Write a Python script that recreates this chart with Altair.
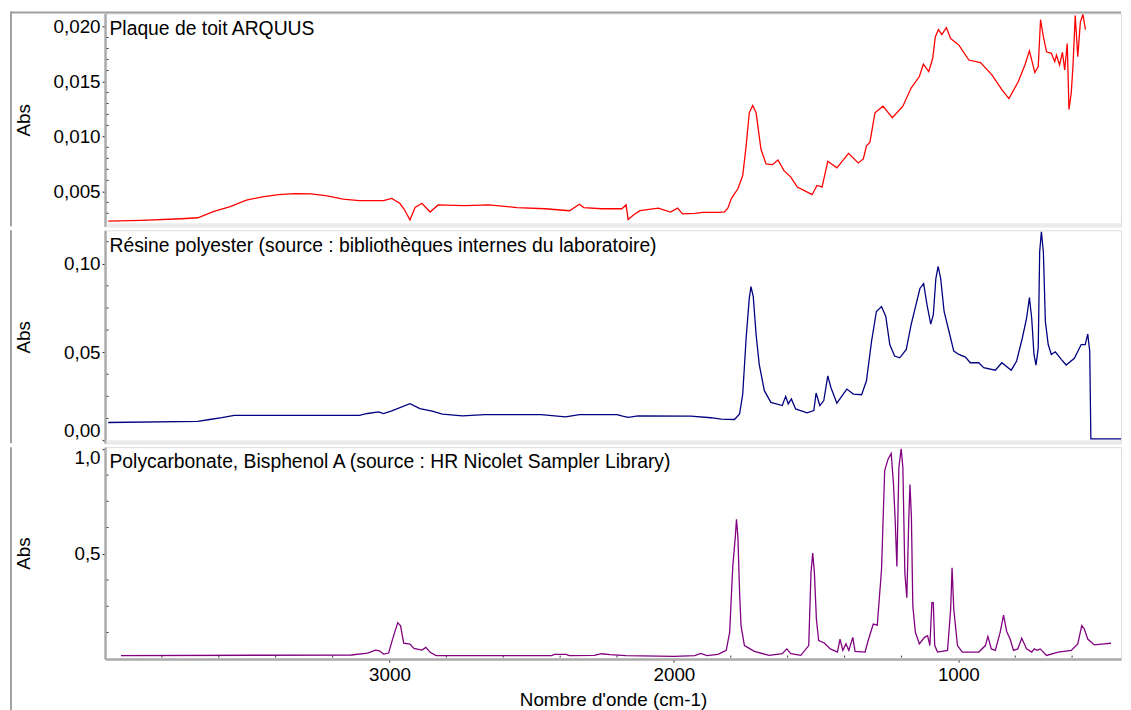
import altair as alt
import pandas as pd

FONT = "Liberation Sans"
FS = 19
FS_TXT = 19.5
W = 1026
H1, H2, H3 = 215, 215, 214
X_DOMAIN = [428, 4000]

panel_titles = [
    "Plaque de toit ARQUUS",
    "Résine polyester (source : bibliothèques internes du laboratoire)",
    "Polycarbonate, Bisphenol A (source : HR Nicolet Sampler Library)",
]
x_title = "Nombre d'onde (cm-1)"
y_title = "Abs"
x_ticks = [3000, 2000, 1000]
x_minor = [3800, 3600, 3400, 3200, 2800, 2600, 2400, 2200, 1800, 1600, 1400, 1200, 800, 600]

# --- Plaque de toit ARQUUS (red) ---
red_wn = [3989, 3873, 3731, 3674, 3617, 3560, 3503, 3447, 3390, 3333, 3276, 3219, 3163, 3106,
          3021, 2992, 2964, 2947, 2928, 2910, 2886, 2857, 2829, 2736, 2651, 2552, 2452, 2367,
          2332, 2317, 2254, 2183, 2168, 2161, 2140, 2119, 2055, 2012, 1987, 1970, 1926, 1899,
          1842, 1822, 1810, 1798, 1775, 1758, 1746, 1735, 1723, 1711, 1694, 1676, 1653, 1634,
          1613, 1589, 1566, 1543, 1514, 1497, 1479, 1459, 1427, 1386, 1352, 1334, 1323, 1311,
          1293, 1265, 1232, 1195, 1166, 1137, 1123, 1104, 1090, 1081, 1070, 1058, 1042, 1027,
          998, 963, 922, 882, 847, 822, 789, 766, 750, 731, 719, 711, 702, 690, 673, 661, 655,
          644, 634, 626, 617, 611, 603, 597, 589, 580, 571, 562, 553]
red_abs = [0.0023, 0.00236, 0.00251, 0.0026, 0.00318, 0.00362, 0.00421, 0.0045, 0.00471, 0.0048,
           0.00477, 0.00459, 0.0043, 0.00415, 0.00415, 0.00436, 0.00392, 0.00333, 0.0024, 0.00353,
           0.00392, 0.00312, 0.00377, 0.00371, 0.00377, 0.00353, 0.00342, 0.00324, 0.00383,
           0.00353, 0.00342, 0.00342, 0.00377, 0.00245, 0.00289, 0.00324, 0.00348, 0.00312,
           0.00348, 0.00295, 0.0030, 0.00309, 0.00309, 0.00314, 0.0035, 0.00434, 0.00524,
           0.00644, 0.00914, 0.01215, 0.01281, 0.01215, 0.00885, 0.0075, 0.00743, 0.00786,
           0.00689, 0.0063, 0.0054, 0.00509, 0.0047, 0.00554, 0.0054, 0.00774, 0.00714, 0.00846,
           0.00759, 0.00795, 0.00914, 0.00945, 0.01215, 0.01275, 0.0117, 0.01275, 0.0144,
           0.01545, 0.01657, 0.0159, 0.01711, 0.01905, 0.01972, 0.01927, 0.0199, 0.01891,
           0.01831, 0.01695, 0.01671, 0.0156, 0.01425, 0.01344, 0.015, 0.0165, 0.01779, 0.01581,
           0.01635, 0.02062, 0.01921, 0.0177, 0.01756, 0.0168, 0.0174, 0.0165, 0.01765, 0.01605,
           0.01846, 0.01245, 0.01395, 0.01635, 0.021, 0.01725, 0.0204, 0.0211, 0.01972]

# --- Résine polyester (blue) ---
blue_wn = [3989, 3674, 3632, 3589, 3546, 3106, 3077, 3038, 3021, 2992, 2928, 2893, 2850, 2814,
           2743, 2665, 2467, 2381, 2332, 2200, 2180, 2161, 2126, 1941, 1870, 1834, 1787, 1769,
           1758, 1746, 1735, 1729, 1721, 1711, 1700, 1682, 1659, 1619, 1607, 1598, 1587, 1572,
           1532, 1508, 1500, 1487, 1473, 1459, 1448, 1427, 1392, 1369, 1340, 1323, 1305, 1288,
           1270, 1255, 1241, 1224, 1206, 1183, 1166, 1149, 1135, 1122, 1110, 1097, 1088, 1079,
           1071, 1062, 1050, 1033, 1016, 998, 975, 958, 928, 911, 870, 847, 814, 795, 775, 760,
           750, 742, 734, 727, 719, 714, 708, 701, 694, 684, 673, 659, 638, 621, 592, 568, 554,
           545, 538, 534, 428]
blue_abs = [0.0102, 0.0108, 0.0119, 0.0129, 0.0142, 0.0142, 0.0153, 0.0162, 0.0153, 0.0168,
            0.0209, 0.0181, 0.0166, 0.0149, 0.014, 0.0147, 0.0147, 0.0134, 0.0147, 0.0147,
            0.0138, 0.0131, 0.014, 0.0138, 0.0129, 0.0121, 0.0119, 0.0151, 0.0263, 0.058,
            0.0804, 0.087, 0.0814, 0.0599, 0.0431, 0.0282, 0.0216, 0.0198, 0.025, 0.0207, 0.0235,
            0.0179, 0.0157, 0.017, 0.0269, 0.0198, 0.0226, 0.0366, 0.03, 0.0211, 0.0291, 0.0263,
            0.0259, 0.0338, 0.0562, 0.073, 0.0758, 0.0702, 0.0543, 0.0478, 0.0468, 0.0515,
            0.0655, 0.0767, 0.086, 0.0888, 0.0767, 0.0658, 0.0711, 0.0916, 0.0985, 0.0916, 0.073,
            0.0618, 0.0506, 0.0487, 0.0472, 0.044, 0.044, 0.0412, 0.0398, 0.044, 0.0398, 0.045,
            0.058, 0.0692, 0.0808, 0.0692, 0.0487, 0.0427, 0.0524, 0.1066, 0.1181, 0.1066,
            0.0674, 0.0543, 0.0487, 0.0502, 0.0459, 0.0427, 0.0465, 0.0543, 0.0543, 0.0602,
            0.0506, 0.001, 0.001]

# --- Polycarbonate, Bisphenol A (purple) ---
purple_wn = [3944, 3134, 3077, 3049, 3035, 3021, 3003, 2989, 2971, 2961, 2950, 2928, 2914, 2886,
             2872, 2857, 2836, 2430, 2420, 2380, 2367, 2280, 2254, 2225, 2168, 1998, 1927, 1905,
             1884, 1845, 1816, 1804, 1793, 1784, 1780, 1775, 1769, 1764, 1752, 1717, 1665, 1619,
             1603, 1589, 1554, 1526, 1518, 1512, 1506, 1499, 1491, 1471, 1450, 1425, 1416, 1406,
             1395, 1385, 1371, 1363, 1328, 1317, 1299, 1285, 1270, 1259, 1247, 1236, 1228, 1222,
             1216, 1209, 1201, 1195, 1188, 1181, 1174, 1170, 1165, 1160, 1151, 1137, 1119, 1108,
             1100, 1093, 1088, 1083, 1073, 1038, 1027, 1022, 1016, 1003, 986, 928, 905, 896, 884,
             870, 853, 841, 830, 818, 806, 791, 777, 760, 742, 733, 723, 712, 690, 649, 603, 580,
             566, 557, 545, 522, 488, 463]
purple_abs = [0.015, 0.018, 0.0274, 0.0415, 0.038, 0.0226, 0.0273, 0.0934, 0.172, 0.157, 0.0745,
              0.0698, 0.0495, 0.0415, 0.0542, 0.0307, 0.015, 0.015, 0.021, 0.021, 0.015, 0.016,
              0.024, 0.02, 0.015, 0.0118, 0.015, 0.026, 0.015, 0.021, 0.04, 0.126, 0.44, 0.582,
              0.664, 0.582, 0.315, 0.158, 0.063, 0.035, 0.016, 0.024, 0.047, 0.024, 0.016, 0.063,
              0.409, 0.503, 0.409, 0.189, 0.087, 0.075, 0.047, 0.032, 0.094, 0.04, 0.071, 0.04,
              0.102, 0.035, 0.032, 0.087, 0.165, 0.16, 0.425, 0.896, 0.951, 0.978, 0.833, 0.66,
              0.44, 0.912, 1.0, 0.912, 0.409, 0.291, 0.676, 0.83, 0.676, 0.252, 0.126, 0.071,
              0.102, 0.11, 0.063, 0.267, 0.267, 0.063, 0.032, 0.04, 0.236, 0.433, 0.236, 0.063,
              0.032, 0.032, 0.063, 0.107, 0.047, 0.04, 0.126, 0.208, 0.13, 0.094, 0.04, 0.047,
              0.098, 0.047, 0.032, 0.047, 0.04, 0.047, 0.016, 0.032, 0.04, 0.071, 0.158, 0.142,
              0.094, 0.066, 0.071, 0.074]

# y axes: domains, tick values, minor ticks
y1_domain = [0.00182, 0.02119]
y1_ticks = [0.005, 0.010, 0.015, 0.020]
y1_minor = [0.003, 0.004, 0.006, 0.007, 0.008, 0.009, 0.011, 0.012, 0.013, 0.014, 0.016, 0.017, 0.018, 0.019]
y2_domain = [-0.0015, 0.1189]
y2_ticks = [0.0, 0.05, 0.10]
y2_minor = [0.0125, 0.025, 0.0375, 0.0625, 0.075, 0.0875, 0.1125]
y3_domain = [-0.0014, 1.008]
y3_ticks = [0.5, 1.0]
y3_minor = [0.125, 0.25, 0.375, 0.625, 0.75, 0.875]

FRAME = "#a0a0a0"
AXIS_GREY = "#aaaaaa"
SEP = "#ececec"
one = pd.DataFrame({"k": [0]})

xscale = alt.Scale(domain=X_DOMAIN, reverse=True, nice=False, zero=False)


def make_panel(wn, ab, color, title, ydomain, yticks, yfmt, yminor, h, top=False, bottom=False):
    df = pd.DataFrame({"wn": wn, "abs": ab})
    yscale = alt.Scale(domain=ydomain, nice=False, zero=False)
    if bottom:
        xaxis = alt.Axis(values=x_ticks, format="d", title=x_title, titleY=47,
                         titleBaseline="alphabetic", titleFont=FONT, titleFontSize=FS,
                         titleFontWeight="normal", titleColor="black", labelFont=FONT,
                         labelFontSize=FS, labelColor="black", tickSize=3, tickColor="#222",
                         labelPadding=4, domainColor=AXIS_GREY, domainWidth=2.5, grid=False,
                         labelFlush=False)
    else:
        xaxis = None
    yaxis = alt.Axis(values=yticks, labelExpr=f"replace(format(datum.value, '{yfmt}'), '.', ',')",
                     title=y_title, titleX=-82, titleBaseline="middle", titleFont=FONT,
                     titleFontSize=FS, titleFontWeight="normal", titleColor="black",
                     labelFont=FONT, labelFontSize=FS, labelColor="black", tickSize=3,
                     tickColor="#222", labelPadding=2, domainColor=AXIS_GREY, domainWidth=2.5,
                     grid=False, labelFlush=4, labelFlushOffset=0)
    layers = []
    if not bottom:
        layers.append(alt.Chart(one).mark_rule(color=SEP, strokeWidth=3).encode(
            x=alt.value(1.5), x2=alt.value(W), y=alt.value(h - 1.5)))
    line = alt.Chart(df).mark_line(color=color, strokeWidth=1.3, clip=True).encode(
        x=alt.X("wn:Q", scale=xscale, axis=xaxis),
        y=alt.Y("abs:Q", scale=yscale, axis=yaxis),
    )
    layers.append(line)
    minor_df = pd.DataFrame({"v": yminor})
    layers.append(alt.Chart(minor_df).mark_rule(color="#333", strokeWidth=1).encode(
        y=alt.Y("v:Q", scale=yscale), x=alt.value(1.5), x2=alt.value(3.5)))
    if bottom:
        xm_df = pd.DataFrame({"v": x_minor})
        layers.append(alt.Chart(xm_df).mark_rule(color="#333", strokeWidth=1).encode(
            x=alt.X("v:Q", scale=xscale), y=alt.value(h - 3.5), y2=alt.value(h - 1.5)))
    layers.append(alt.Chart(pd.DataFrame({"t": [title]})).mark_text(
        align="left", baseline="alphabetic", font=FONT, fontSize=FS_TXT, color="black").encode(
        x=alt.value(4.5), y=alt.value(21.5), text="t:N"))
    # outer frame
    if top:
        layers.append(alt.Chart(one).mark_rule(color=FRAME, strokeWidth=2).encode(
            x=alt.value(-95), x2=alt.value(W), y=alt.value(-1)))
    layers.append(alt.Chart(one).mark_rule(color=FRAME, strokeWidth=2).encode(
        x=alt.value(-95), y=alt.value(-2 if top else 0), y2=alt.value(h + 52 if bottom else h)))
    return alt.layer(*layers).properties(width=W, height=h)


p1 = make_panel(red_wn, red_abs, "#ff0000", panel_titles[0], y1_domain, y1_ticks, ".3f", y1_minor, H1, top=True)
p2 = make_panel(blue_wn, blue_abs, "#000080", panel_titles[1], y2_domain, y2_ticks, ".2f", y2_minor, H2)
p3 = make_panel(purple_wn, purple_abs, "#800080", panel_titles[2], y3_domain, y3_ticks, ".1f", y3_minor, H3, bottom=True)

chart = alt.vconcat(p1, p2, p3, spacing=0).properties(
    padding={"left": 1, "top": -2, "right": 0, "bottom": 0}
).configure_view(stroke=None).configure(font=FONT)

chart.save("out.html", embed_options={"renderer": "svg", "actions": False})
